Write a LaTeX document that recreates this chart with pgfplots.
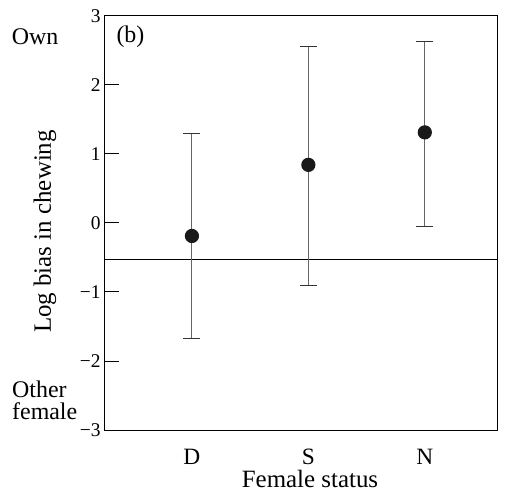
\documentclass[border=0pt]{standalone}
\usepackage{pgfplots}
\pgfplotsset{compat=1.18}
\usepackage{fontspec}
\setmainfont{Liberation Serif}
\begin{document}
\begin{tikzpicture}[x=1bp,y=1bp]
\begin{axis}[
  at={(0,0)}, anchor=south west,
  scale only axis, width=393bp, height=414.3bp,
  xmin=0.245, xmax=3.62, ymin=-3, ymax=3,
  xtick={1,2,3}, xticklabels={D,S,N},
  ytick={-3,-2,-1,0,1,2,3},
  yticklabels={−3,−2,−1,0,1,2,3},
  tick align=inside, ytick pos=left,
  major tick length=15bp,
  x tick style={draw=none},
  tick style={black, line width=0.8bp},
  axis line style={line width=0.8bp},
  yticklabel style={font=\fontsize{19.5}{22}\selectfont},
  xticklabel style={font=\fontsize{23.5}{26}\selectfont, anchor=base, yshift=-34bp, inner sep=1bp},
  clip=false,
]
\addplot[black, line width=0.8bp] coordinates {(0.245,-0.53) (3.62,-0.53)};
\addplot[black!70, line width=1bp, mark=*, mark size=6.6bp,
  mark options={fill=black!90, draw=black!90},
  only marks,
  error bars/.cd, y dir=both, y explicit,
  error bar style={black!60, line width=1.1bp},
  error mark options={rotate=90, mark size=8.5bp, line width=1bp, black!80}]
  coordinates {
  (1,-0.19) += (0,1.48) -= (0,1.48)
  (2,0.84) += (0,1.72) -= (0,1.75)
  (3,1.31) += (0,1.31) -= (0,1.365)
};
\end{axis}
\begin{scope}[font=\fontsize{24}{22}\selectfont]
\node at (-69bp,393bp) {Own};
\node[anchor=west] at (9bp,393bp) {(b)};
\node[anchor=west, align=left, inner sep=0pt] at (-92bp,30bp) {Other\\female};
\end{scope}
\begin{scope}[font=\fontsize{25}{28}\selectfont]
\node[rotate=90] at (-59bp,198.5bp) {Log bias in chewing};
\node[anchor=base, inner sep=0pt] at (206bp,-57bp) {Female status};
\end{scope}
\pgfresetboundingbox
\path (-104bp,-61bp) rectangle (408bp,430bp);
\end{tikzpicture}
\end{document}
